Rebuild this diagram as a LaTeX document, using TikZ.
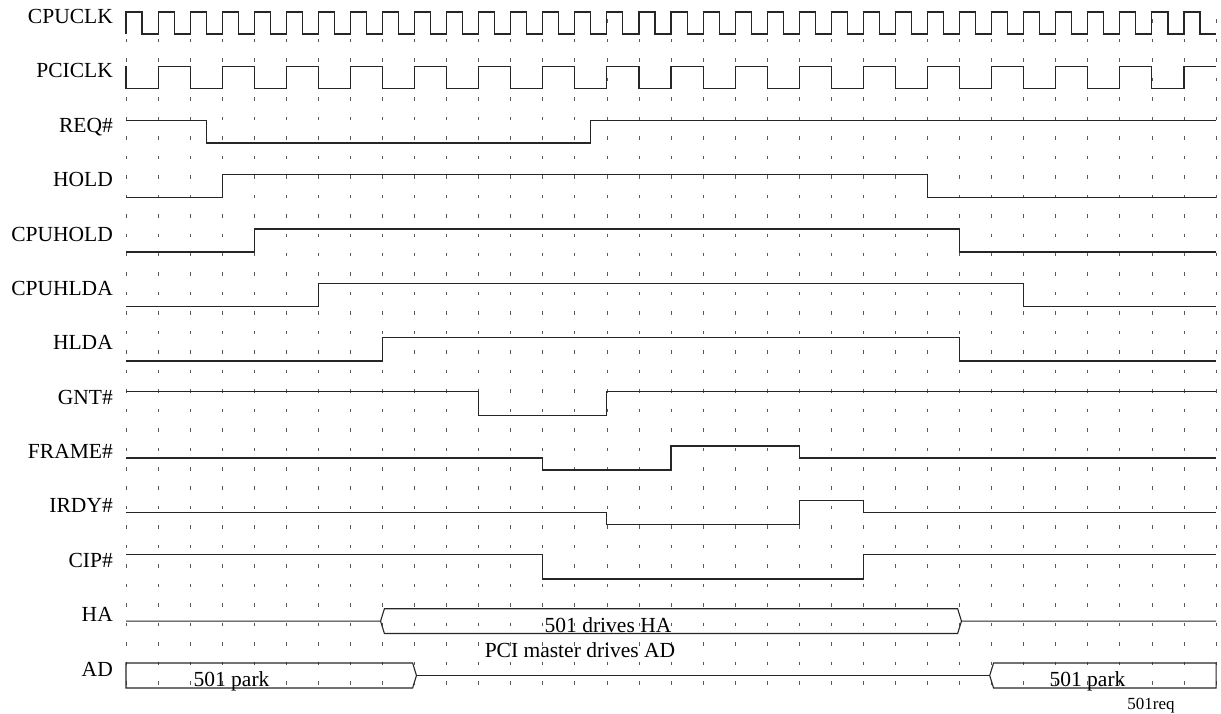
\documentclass[tikz,border=0pt]{standalone}
\usepackage{fontspec}
\setmainfont{Liberation Serif}
\usetikzlibrary{positioning}

% levels of row #1: high, low, middle (in pt, measured downwards)
\newcommand\setrow[1]{%
  \pgfmathsetmacro\yH{12+54.25*#1}%
  \pgfmathsetmacro\yL{34+54.5*#1}%
  \pgfmathsetmacro\yM{(\yH+\yL)/2}}

\begin{document}
\begin{tikzpicture}[
  x=1pt, y=-1pt,
  sig/.style={line width=1.1pt, black!85, line join=miter},
  gridln/.style={line width=0.8pt, black!65, dash pattern=on 3.5pt off 15.96pt},
  lbl/.style={anchor=base east, inner sep=0pt, font=\fontsize{21.5}{24}\selectfont},
  bustxt/.style={anchor=base, inner sep=0pt, font=\fontsize{21.5}{24}\selectfont},
  tagtxt/.style={anchor=base, inner sep=0pt, font=\fontsize{17}{19}\selectfont},
]
  \useasboundingbox (0,0) rectangle (1221,713);

  % signal names
  \foreach \txt [count=\k from 0] in {CPUCLK,PCICLK,REQ\#,HOLD,CPUHOLD,CPUHLDA,HLDA,GNT\#,FRAME\#,IRDY\#,CIP\#,HA,AD} {
    \setrow{\k}
    \node[lbl] (lab\k) at (113,\yM+0.5) {\txt};
  }

  \begin{scope}[x=32.06pt, xshift=126pt]
    % clock grid
    \foreach \i in {0,...,34}
      \draw[gridln] (\i,19.45) -- (\i,685.5);

    % CPUCLK
    \setrow{0}
    \draw[sig] (0,\yL) \foreach \i in {0,...,33} { -- (\i,\yH) -- (\i+0.5,\yH) -- (\i+0.5,\yL) -- (\i+1,\yL) };
    % PCICLK
    \setrow{1}
    \draw[sig] (0,\yH) -- (0,\yL) \foreach \i in {1,3,...,31} { -- (\i,\yL) -- (\i,\yH) -- (\i+1,\yH) -- (\i+1,\yL) }
      -- (33,\yL) -- (33,\yH) -- (34,\yH);
    % REQ#
    \setrow{2}
    \draw[sig] (0,\yH) -- (2.5,\yH) -- (2.5,\yL) -- (14.5,\yL) -- (14.5,\yH) -- (34,\yH);
    % HOLD
    \setrow{3}
    \draw[sig] (0,\yL) -- (3,\yL) -- (3,\yH) -- (25,\yH) -- (25,\yL) -- (34,\yL);
    % CPUHOLD
    \setrow{4}
    \draw[sig] (0,\yL) -- (4,\yL) -- (4,\yH) -- (26,\yH) -- (26,\yL) -- (34,\yL);
    % CPUHLDA
    \setrow{5}
    \draw[sig] (0,\yL) -- (6,\yL) -- (6,\yH) -- (28,\yH) -- (28,\yL) -- (34,\yL);
    % HLDA
    \setrow{6}
    \draw[sig] (0,\yL) -- (8,\yL) -- (8,\yH) -- (26,\yH) -- (26,\yL) -- (34,\yL);
    % GNT#
    \setrow{7}
    \draw[sig] (0,\yH) -- (11,\yH) -- (11,\yL) -- (15,\yL) -- (15,\yH) -- (34,\yH);
    % FRAME#
    \setrow{8}
    \draw[sig] (0,\yM) -- (13,\yM) -- (13,\yL) -- (17,\yL) -- (17,\yH) -- (21,\yH) -- (21,\yM) -- (34,\yM);
    % IRDY#
    \setrow{9}
    \draw[sig] (0,\yM) -- (15,\yM) -- (15,\yL) -- (21,\yL) -- (21,\yH) -- (23,\yH) -- (23,\yM) -- (34,\yM);
    % CIP#
    \setrow{10}
    \draw[sig] (0,\yH) -- (13,\yH) -- (13,\yL) -- (23,\yL) -- (23,\yH) -- (34,\yH);
    % HA bus
    \setrow{11}
    \draw[sig] (0,\yM) -- (7.94,\yM) -- (8.06,\yH) -- (25.94,\yH) -- (26.06,\yM) -- (34,\yM);
    \draw[sig] (7.94,\yM) -- (8.06,\yL) -- (25.94,\yL) -- (26.06,\yM);
    % AD bus
    \setrow{12}
    \draw[sig] (9.06,\yM) -- (8.94,\yH) -- (0,\yH) -- (0,\yL) -- (8.94,\yL) -- cycle;
    \draw[sig] (9.06,\yM) -- (26.94,\yM);
    \draw[sig] (26.94,\yM) -- (27.06,\yH) -- (34,\yH) -- (34,\yL) -- (27.06,\yL) -- cycle;
  \end{scope}

  % bus contents
  \node[bustxt] (hadrv) at (608,632) {501 drives HA};
  \node[bustxt] (addrv) at (580,657) {PCI master drives AD};
  \node[bustxt] (park1) at (231.5,686) {501 park};
  \node[bustxt] (park2) at (1087.5,686) {501 park};
  \node[tagtxt] (tag) at (1151,709) {501req};
\end{tikzpicture}
\end{document}
